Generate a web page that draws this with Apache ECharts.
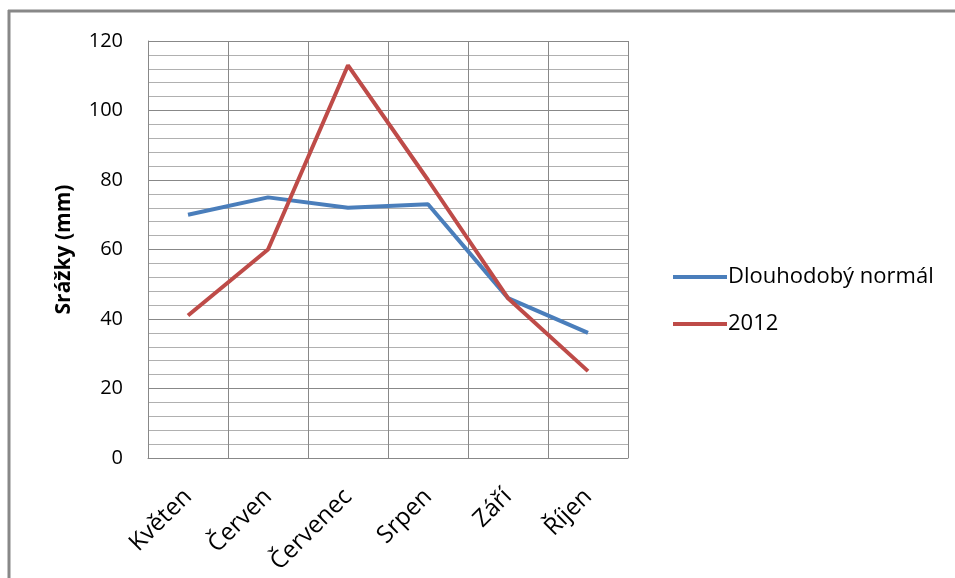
<!DOCTYPE html>
<html>
<head>
<meta charset="utf-8">
<script src="https://cdn.jsdelivr.net/npm/echarts@6/dist/echarts.min.js"></script>
<style>html,body{margin:0;padding:0;background:#fff}#c{width:955px;height:578px}</style>
</head>
<body>
<div id="c"></div>
<script>
const categories = ['Květen', 'Červen', 'Červenec', 'Srpen', 'Září', 'Říjen'];
const normal = [70, 75, 72, 73, 46, 36];
const year2012 = [41, 60, 113, 80, 46, 25];
const seriesNames = ['Dlouhodobý normál', '2012'];
const yTicks = { min: 0, max: 120, interval: 20 };

const FONT = 'Open Sans';
const chart = echarts.init(document.getElementById('c'), null, { renderer: 'canvas' });
chart.setOption({
  animation: false,
  backgroundColor: '#fff',
  textStyle: { fontFamily: FONT },
  graphic: [
    { type: 'line', shape: { x1: 8, y1: 11, x2: 955, y2: 11 }, style: { stroke: '#888', lineWidth: 3 } },
    { type: 'line', shape: { x1: 9, y1: 10, x2: 9, y2: 578 }, style: { stroke: '#888', lineWidth: 3 } }
  ],
  grid: { left: 148, right: 327, top: 41, bottom: 120, containLabel: false },
  legend: {
    orient: 'vertical',
    left: 668,
    top: 261,
    itemWidth: 54,
    itemHeight: 4,
    itemGap: 25,
    icon: 'rect',
    textStyle: { fontFamily: FONT, fontSize: 22, color: '#000', padding: [0, 0, 0, -4] },
    data: seriesNames
  },
  xAxis: {
    type: 'category',
    data: categories,
    boundaryGap: true,
    axisLine: { show: true, lineStyle: { color: '#888', width: 1 } },
    axisTick: { show: false },
    splitLine: { show: true, lineStyle: { color: '#888', width: 1 } },
    axisLabel: { rotate: 45, interval: 0, margin: 35, fontFamily: FONT, fontSize: 24, color: '#000' }
  },
  yAxis: {
    type: 'value',
    min: yTicks.min, max: yTicks.max, interval: yTicks.interval,
    name: 'Srážky (mm)',
    nameLocation: 'middle',
    nameGap: 73,
    nameRotate: 90,
    nameTextStyle: { fontFamily: FONT, fontSize: 21, fontWeight: 'bold', color: '#000' },
    axisLine: { show: true, lineStyle: { color: '#888', width: 1 } },
    axisTick: { show: false },
    axisLabel: { margin: 25, fontFamily: FONT, fontSize: 20, color: '#000' },
    splitLine: { show: true, lineStyle: { color: '#888', width: 1 } },
    minorTick: { show: false, splitNumber: 5 },
    minorSplitLine: { show: true, lineStyle: { color: '#b0b0b0', width: 1 } }
  },
  series: [
    { name: seriesNames[0], type: 'line', data: normal, symbol: 'none', lineStyle: { color: '#4a7ebb', width: 4 }, itemStyle: { color: '#4a7ebb' } },
    { name: seriesNames[1], type: 'line', data: year2012, symbol: 'none', lineStyle: { color: '#be4b48', width: 4 }, itemStyle: { color: '#be4b48' } }
  ]
});
</script>
</body>
</html>
